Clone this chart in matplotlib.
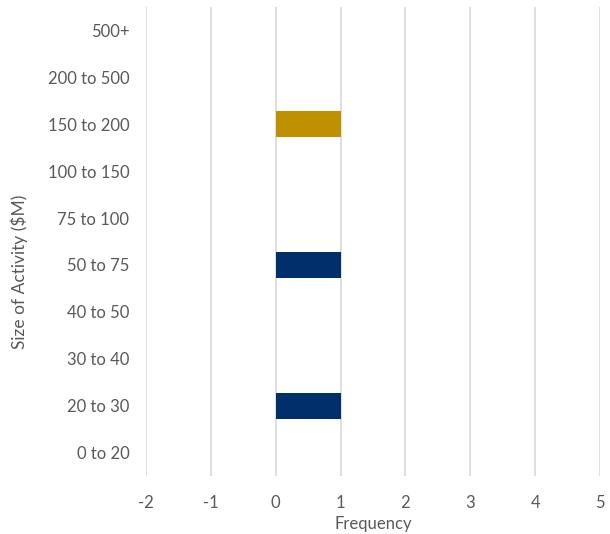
import matplotlib
matplotlib.use("Agg")
import matplotlib.pyplot as plt

categories = ["0 to 20", "20 to 30", "30 to 40", "40 to 50", "50 to 75",
              "75 to 100", "100 to 150", "150 to 200", "200 to 500", "500+"]
frequency = [0, 1, 0, 0, 1, 0, 0, 1, 0, 0]
bar_colors = ["#002F6C", "#002F6C", "#002F6C", "#002F6C", "#002F6C",
              "#002F6C", "#002F6C", "#BF9000", "#002F6C", "#002F6C"]
xticks = [-2, -1, 0, 1, 2, 3, 4, 5]

plt.rcParams['font.family'] = ['Lato', 'DejaVu Sans']
text_color = "#595959"

fig = plt.figure(figsize=(6.1, 5.34), dpi=100)
ax = fig.add_axes([146/610, 58/534, 454/610, 469/534])

y = list(range(len(categories)))
ax.barh(y, frequency, height=0.55, color=bar_colors, zorder=3)

ax.set_xlim(-2, 5)
ax.set_ylim(-0.5, len(categories) - 0.5)
ax.set_xticks(xticks)
ax.set_xticklabels([str(t) for t in xticks])
ax.set_yticks(y)
ax.set_yticklabels(categories)

for s in ax.spines.values():
    s.set_visible(False)
ax.grid(axis='x', color="#D9D9D9", linewidth=1.2, zorder=0)
ax.tick_params(axis='both', length=0, colors=text_color, labelsize=12)
ax.tick_params(axis='x', pad=14)
ax.tick_params(axis='y', pad=12)

ax.set_xlabel("Frequency", color=text_color, fontsize=12, labelpad=3)
ax.set_ylabel("Size of Activity ($M)", color=text_color, fontsize=12.5)
ax.yaxis.set_label_coords(-0.26, 0.435)

fig.savefig("out.png", dpi=100)
